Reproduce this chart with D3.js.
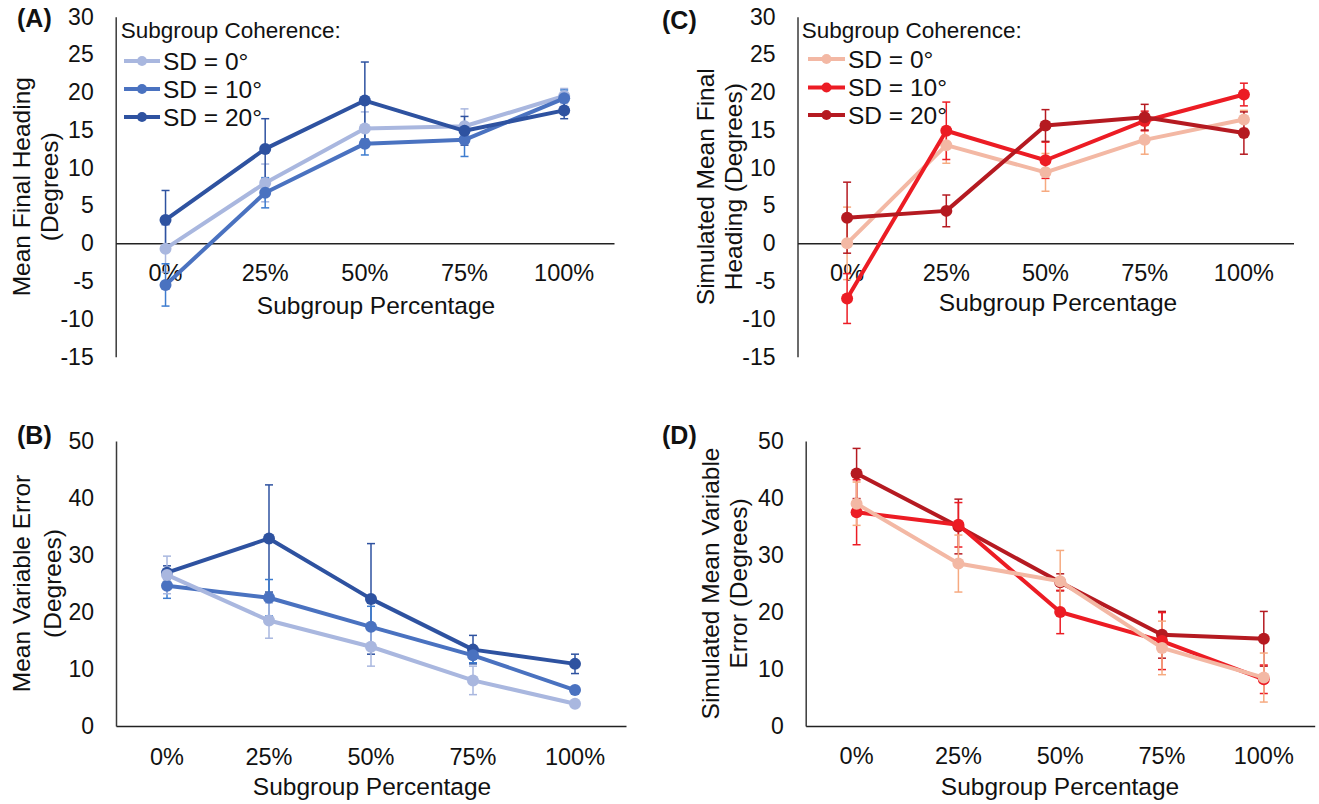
<!DOCTYPE html>
<html>
<head>
<meta charset="utf-8">
<script src="https://cdn.jsdelivr.net/npm/d3@7"></script>
<style>
  html, body { margin: 0; padding: 0; background: #ffffff; }
  svg { display: block; font-family: "Liberation Sans", Arial, sans-serif; }
</style>
</head>
<body>
<svg id="chart" width="1319" height="804"></svg>
<script>
// ---- Data ----
const categories = ["0%", "25%", "50%", "75%", "100%"];
const seriesNames = ["SD = 0°", "SD = 10°", "SD = 20°"];

// (A) observed mean final heading (degrees) and error bars
const headingObserved = [
  [-0.7, 8.0, 15.2, 15.5, 19.5],
  [-5.5, 6.7, 13.2, 13.7, 19.2],
  [3.1, 12.5, 18.9, 14.9, 17.6]
];
const headingObservedErr = [
  [3.1, 2.5, 2.2, 2.3, 1.0],
  [2.8, 2.0, 1.5, 2.2, 1.1],
  [3.9, 4.0, 5.1, 1.9, 1.1]
];

// (B) observed mean variable error (degrees)
const errorObserved = [
  [26.5, 18.5, 13.9, 8.0, 3.9],
  [24.6, 22.5, 17.4, 12.4, 6.3],
  [26.9, 32.9, 22.3, 13.4, 10.9]
];
const errorObservedErr = [
  [3.3, 3.1, 3.4, 2.5, 0.5],
  [2.2, 3.2, 3.6, 1.3, 0.6],
  [1.2, 9.4, 9.7, 2.5, 1.7]
];

// (C) simulated mean final heading (degrees)
const headingSimulated = [
  [0.0, 13.0, 9.4, 13.7, 16.4],
  [-7.3, 14.9, 11.0, 16.2, 19.7],
  [3.4, 4.3, 15.6, 16.7, 14.6]
];
const headingSimulatedErr = [
  [4.8, 2.4, 2.5, 1.9, 1.2],
  [3.3, 3.8, 2.4, 1.3, 1.5],
  [4.7, 2.1, 2.1, 1.7, 2.8]
];

// (D) simulated mean variable error (degrees)
const errorSimulated = [
  [39.0, 28.5, 25.4, 13.7, 8.5],
  [37.5, 35.3, 20.0, 14.9, 8.2],
  [44.3, 35.0, 25.2, 16.0, 15.3]
];
const errorSimulatedErr = [
  [3.8, 5.0, 5.4, 4.7, 4.3],
  [5.7, 3.9, 3.8, 5.0, 2.5],
  [4.4, 4.8, 1.5, 4.1, 4.8]
];

const headingTicks = [-15, -10, -5, 0, 5, 10, 15, 20, 25, 30];
const errorTicks = [0, 10, 20, 30, 40, 50];

// ---- Styles ----
const bluePalette = { line: ["#a9b7df", "#4a72c0", "#2e52a0"], err: ["#a9b7df", "#3d7ccf", "#2e52a0"] };
const redPalette  = { line: ["#f3b8a4", "#ec1c24", "#b51a21"], err: ["#f6aa80", "#ec1c24", "#b51a21"] };
const textColor = "#111111";

const svg = d3.select("#chart");

function drawPanel(cfg) {
  const g = svg.append("g");
  const x = d3.scaleBand().domain(categories).range([cfg.left, cfg.right]).padding(0);
  const y = d3.scaleLinear().domain(cfg.domain).range([cfg.bottom, cfg.top]);
  const cx = d => x(d) + x.bandwidth() / 2;

  // y axis (line only, labels to the left)
  const yAxis = d3.axisLeft(y).tickValues(cfg.ticks).tickSize(0).tickPadding(22).tickFormat(d3.format("d"));
  const ya = g.append("g").attr("transform", `translate(${cfg.left},0)`).call(yAxis);
  ya.select(".domain").attr("stroke", "#3a3a3a").attr("stroke-width", 1.5);
  ya.selectAll("text").attr("font-size", 23).attr("fill", textColor)
    .attr("font-family", "'Liberation Sans', Arial, sans-serif").text(d => d < 0 ? "-" + Math.abs(d) : d);

  // horizontal axis line at zero
  const xa = g.append("g").attr("transform", `translate(0,${y(0)})`)
    .call(d3.axisBottom(x).tickSize(0).tickFormat(""));
  xa.select(".domain").attr("stroke", "#222222").attr("stroke-width", 1.5);

  // category labels
  g.selectAll(".cat").data(categories).enter().append("text")
    .attr("x", d => cx(d)).attr("y", cfg.catY)
    .attr("text-anchor", "middle").attr("dominant-baseline", "central")
    .attr("font-size", 23.5).attr("fill", textColor).text(d => d);

  // axis titles
  g.append("text").attr("x", cfg.xTitle[0]).attr("y", cfg.xTitle[1])
    .attr("text-anchor", "middle").attr("dominant-baseline", "central")
    .attr("font-size", 24.5).attr("fill", textColor).text("Subgroup Percentage");

  const yMid = (cfg.top + cfg.bottom) / 2;
  cfg.yTitle.forEach((line, i) => {
    g.append("text")
      .attr("transform", `translate(${cfg.yTitleX[i]},${yMid}) rotate(-90)`)
      .attr("text-anchor", "middle").attr("dominant-baseline", "central")
      .attr("font-size", 24.5).attr("fill", textColor).text(line);
  });

  // panel letter
  g.append("text").attr("x", cfg.letterPos[0]).attr("y", cfg.letterPos[1])
    .attr("dominant-baseline", "central").attr("font-weight", "bold")
    .attr("font-size", 25).attr("fill", textColor).text(cfg.letter);

  const order = cfg.order;

  // error bars
  order.forEach(s => {
    const eg = g.append("g").attr("stroke", cfg.palette.err[s]).attr("stroke-width", 1.5).attr("fill", "none");
    categories.forEach((c, i) => {
      const v = cfg.values[s][i], e = cfg.errs[s][i];
      const px = cx(c), y1 = y(v + e), y2 = y(v - e);
      eg.append("line").attr("x1", px).attr("x2", px).attr("y1", y1).attr("y2", y2);
      eg.append("line").attr("x1", px - 4).attr("x2", px + 4).attr("y1", y1).attr("y2", y1);
      eg.append("line").attr("x1", px - 4).attr("x2", px + 4).attr("y1", y2).attr("y2", y2);
    });
  });

  // lines and markers
  const line = d3.line().x((d, i) => cx(categories[i])).y(d => y(d));
  order.forEach(s => {
    g.append("path").datum(cfg.values[s]).attr("d", line)
      .attr("fill", "none").attr("stroke", cfg.palette.line[s])
      .attr("stroke-width", 4).attr("stroke-linejoin", "round");
    g.selectAll(null).data(cfg.values[s]).enter().append("circle")
      .attr("cx", (d, i) => cx(categories[i])).attr("cy", d => y(d))
      .attr("r", 6).attr("fill", cfg.palette.line[s]);
  });

  // legend
  if (cfg.legend) {
    const L = cfg.legend;
    const lg = g.append("g");
    lg.append("text").attr("x", L.titleX).attr("y", L.titleY)
      .attr("dominant-baseline", "central").attr("font-size", 22.5).attr("fill", textColor)
      .text("Subgroup Coherence:");
    seriesNames.forEach((name, s) => {
      const yy = L.rows[s];
      lg.append("line").attr("x1", L.swatch[0]).attr("x2", L.swatch[1]).attr("y1", yy).attr("y2", yy)
        .attr("stroke", cfg.palette.line[s]).attr("stroke-width", 4);
      lg.append("circle").attr("cx", (L.swatch[0] + L.swatch[1]) / 2).attr("cy", yy).attr("r", 5)
        .attr("fill", cfg.palette.line[s]);
      lg.append("text").attr("x", L.textX).attr("y", yy)
        .attr("dominant-baseline", "central").attr("font-size", 24.5).attr("fill", textColor).text(name);
    });
  }
}

drawPanel({
  letter: "(A)", letterPos: [17, 18],
  left: 115.7, right: 614, top: 16.7, bottom: 356.7, domain: [-15, 30], ticks: headingTicks,
  values: headingObserved, errs: headingObservedErr, palette: bluePalette, order: [0, 1, 2],
  catY: 273, xTitle: [376, 305],
  yTitle: ["Mean Final Heading", "(Degrees)"], yTitleX: [21, 49],
  legend: { titleX: 120.7, titleY: 30, rows: [61, 89, 117], swatch: [124, 160], textX: 163 }
});

drawPanel({
  letter: "(B)", letterPos: [17, 435],
  left: 116, right: 626, top: 441, bottom: 726, domain: [0, 50], ticks: errorTicks,
  values: errorObserved, errs: errorObservedErr, palette: bluePalette, order: [2, 1, 0],
  catY: 757, xTitle: [372, 786],
  yTitle: ["Mean Variable Error", "(Degrees)"], yTitleX: [21, 52]
});

drawPanel({
  letter: "(C)", letterPos: [662, 20],
  left: 797.5, right: 1293.5, top: 16.7, bottom: 356.7, domain: [-15, 30], ticks: headingTicks,
  values: headingSimulated, errs: headingSimulatedErr, palette: redPalette, order: [0, 1, 2],
  catY: 273, xTitle: [1058, 302],
  yTitle: ["Simulated Mean Final", "Heading (Degrees)"], yTitleX: [705, 733],
  legend: { titleX: 801.7, titleY: 30, rows: [59, 87.5, 115], swatch: [808, 845], textX: 848 }
});

drawPanel({
  letter: "(D)", letterPos: [662, 435],
  left: 805.7, right: 1314.7, top: 441, bottom: 726, domain: [0, 50], ticks: errorTicks,
  values: errorSimulated, errs: errorSimulatedErr, palette: redPalette, order: [2, 1, 0],
  catY: 756, xTitle: [1060, 786],
  yTitle: ["Simulated Mean Variable", "Error (Degrees)"], yTitleX: [710, 738]
});
</script>
</body>
</html>
